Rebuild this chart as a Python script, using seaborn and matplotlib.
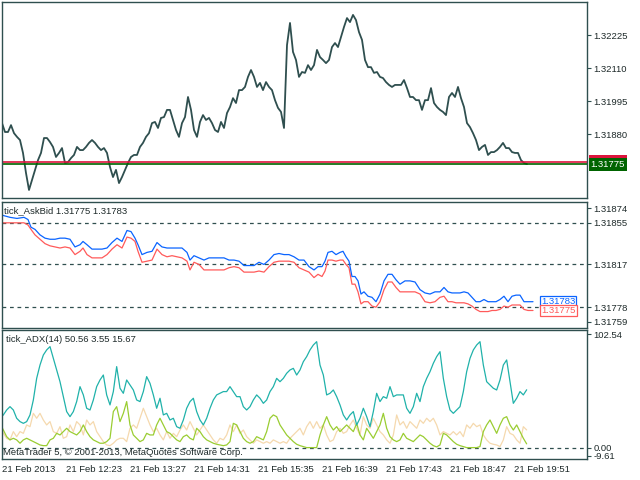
import matplotlib
matplotlib.use("Agg")
import matplotlib.pyplot as plt
import matplotlib.transforms as mtransforms
from matplotlib.patches import Rectangle
import numpy as np
import pandas as pd
import seaborn as sns

# --- main chart: tick price (sampled every 3 ticks) ---
price = [
    1.31918, 1.31887, 1.31887, 1.31911, 1.31883, 1.31870, 1.31859, 1.31814, 1.31744, 1.31685,
    1.31720, 1.31755, 1.31789, 1.31814, 1.31866, 1.31866, 1.31852, 1.31835, 1.31800, 1.31814,
    1.31831, 1.31779, 1.31782, 1.31796, 1.31807, 1.31835, 1.31824, 1.31824, 1.31835, 1.31849,
    1.31859, 1.31849, 1.31835, 1.31824, 1.31831, 1.31814, 1.31765, 1.31730, 1.31755, 1.31709,
    1.31730, 1.31755, 1.31779, 1.31800, 1.31807, 1.31807, 1.31835, 1.31849, 1.31870, 1.31883,
    1.31918, 1.31922, 1.31901, 1.31936, 1.31939, 1.31964, 1.31964, 1.31929, 1.31894, 1.31870,
    1.31918, 1.31939, 1.32009, 1.31964, 1.31894, 1.31870, 1.31922,
    1.31946, 1.31929, 1.31936, 1.31918, 1.31894, 1.31887, 1.31922, 1.31901, 1.31953, 1.31974,
    1.32005, 1.31988, 1.32033, 1.32033, 1.32044, 1.32079, 1.32103,
    1.32079, 1.32044, 1.32058, 1.32033, 1.32061, 1.32044, 1.32033, 1.31998, 1.31971, 1.31957,
    1.31901, 1.32190, 1.32267, 1.32166, 1.32138, 1.32079,
    1.32096, 1.32093, 1.32120, 1.32103, 1.32120, 1.32173, 1.32148, 1.32138, 1.32127, 1.32138,
    1.32183, 1.32197, 1.32183, 1.32218, 1.32253, 1.32284, 1.32270, 1.32295, 1.32277, 1.32235,
    1.32208, 1.32138, 1.32113, 1.32113, 1.32093, 1.32096, 1.32079, 1.32075, 1.32061, 1.32051,
    1.32044, 1.32051, 1.32051,
    1.32051, 1.32068, 1.32040, 1.32009, 1.32009, 1.31998, 1.31998, 1.31964, 1.31998, 1.31998,
    1.32040, 1.31988, 1.31974, 1.31964, 1.31957, 1.31946, 1.32009, 1.32023, 1.32009, 1.32044,
    1.32005, 1.31974, 1.31918, 1.31904, 1.31883, 1.31859, 1.31824, 1.31835, 1.31842, 1.31807,
    1.31817, 1.31817, 1.31824, 1.31835, 1.31849, 1.31831, 1.31831, 1.31817, 1.31814, 1.31814,
    1.31789, 1.31779, 1.31775,
]
price_ticks = [1.32225, 1.32110, 1.31995, 1.31880]

# --- tick_AskBid sub-window ---
ab_tick = [
    2, 10, 17, 24, 28, 31, 35, 40, 45, 50,
    55, 60, 65, 70, 75, 80, 83, 87, 92, 97,
    102, 107, 112, 117, 122, 127, 131, 135, 138, 142,
    147, 152, 157, 162, 167, 172, 177, 182, 187, 190,
    194, 199, 204, 209, 214, 219, 224, 229, 234, 239,
    244, 249, 254, 259, 264, 269, 274, 279, 284, 289,
    294, 299, 304, 309, 314, 318, 322, 325, 328, 332,
    336, 340, 343, 346, 349, 352, 355, 358, 361, 364,
    368, 372, 376, 380, 384, 388, 392, 396, 400, 405,
    410, 415, 420, 425, 430, 435, 440, 444, 448, 452,
    456, 460, 464, 468, 472, 476, 480, 484, 488, 492,
    496, 500, 504, 508, 512, 516, 520, 524, 528, 533,
]
ask = [
    1.31862, 1.31860, 1.31859, 1.31860, 1.31858, 1.31851, 1.31849, 1.31844, 1.31841, 1.31840,
    1.31840, 1.31841, 1.31841, 1.31840, 1.31833, 1.31835, 1.31838, 1.31835, 1.31831, 1.31831,
    1.31831, 1.31832, 1.31837, 1.31841, 1.31838, 1.31848, 1.31847, 1.31841, 1.31835, 1.31826,
    1.31828, 1.31829, 1.31837, 1.31833, 1.31832, 1.31832, 1.31832, 1.31832, 1.31828, 1.31821,
    1.31825, 1.31823, 1.31821, 1.31823, 1.31823, 1.31823, 1.31823, 1.31821, 1.31821, 1.31820,
    1.31816, 1.31816, 1.31816, 1.31819, 1.31817, 1.31821, 1.31826, 1.31827, 1.31826, 1.31826,
    1.31824, 1.31821, 1.31821, 1.31815, 1.31812, 1.31815, 1.31815, 1.31820, 1.31828, 1.31829,
    1.31826, 1.31828, 1.31829, 1.31824, 1.31820, 1.31806, 1.31806, 1.31802, 1.31790, 1.31792,
    1.31788, 1.31787, 1.31783, 1.31790, 1.31802, 1.31808, 1.31808, 1.31803, 1.31799, 1.31802,
    1.31802, 1.31801, 1.31794, 1.31791, 1.31790, 1.31792, 1.31792, 1.31796, 1.31792, 1.31791,
    1.31791, 1.31791, 1.31792, 1.31791, 1.31787, 1.31783, 1.31783, 1.31785, 1.31783, 1.31783,
    1.31783, 1.31785, 1.31788, 1.31783, 1.31788, 1.31789, 1.31789, 1.31783, 1.31783, 1.31783,
]
bid = [
    1.31855, 1.31855, 1.31855, 1.31855, 1.31853, 1.31849, 1.31844, 1.31840, 1.31836, 1.31834,
    1.31833, 1.31832, 1.31833, 1.31832, 1.31826, 1.31829, 1.31832, 1.31826, 1.31823, 1.31823,
    1.31823, 1.31826, 1.31831, 1.31835, 1.31832, 1.31842, 1.31841, 1.31838, 1.31829, 1.31819,
    1.31820, 1.31821, 1.31831, 1.31826, 1.31824, 1.31825, 1.31824, 1.31823, 1.31820, 1.31812,
    1.31819, 1.31817, 1.31812, 1.31812, 1.31812, 1.31812, 1.31812, 1.31814, 1.31815, 1.31814,
    1.31810, 1.31810, 1.31810, 1.31811, 1.31810, 1.31815, 1.31819, 1.31820, 1.31820, 1.31820,
    1.31819, 1.31814, 1.31812, 1.31810, 1.31805, 1.31808, 1.31806, 1.31811, 1.31821, 1.31821,
    1.31820, 1.31821, 1.31821, 1.31817, 1.31814, 1.31799, 1.31799, 1.31792, 1.31781, 1.31783,
    1.31783, 1.31779, 1.31778, 1.31783, 1.31794, 1.31801, 1.31801, 1.31796, 1.31792, 1.31792,
    1.31792, 1.31792, 1.31790, 1.31783, 1.31782, 1.31783, 1.31787, 1.31788, 1.31783, 1.31783,
    1.31782, 1.31782, 1.31782, 1.31781, 1.31779, 1.31776, 1.31774, 1.31774, 1.31774, 1.31775,
    1.31775, 1.31776, 1.31779, 1.31778, 1.31780, 1.31780, 1.31780, 1.31776, 1.31775, 1.31775,
]
ab_levels = [1.31855, 1.31817, 1.31778]
ab_range = (1.31759, 1.31874)

# --- tick_ADX(14) sub-window ---
adx = [
    25.8, 28.7, 33.0, 35.9, 33.0, 25.8, 22.9, 21.4, 22.9, 28.7,
    41.7, 60.5, 72.1, 80.8, 85.2, 88.1, 77.9, 67.8, 57.6, 44.6,
    31.6, 27.2, 31.6, 40.3, 53.3, 46.1, 34.5, 33.0, 41.7, 53.3,
    59.1, 63.4, 46.1, 37.4, 49.0, 70.7, 51.9, 47.5, 59.1, 54.8,
    50.4, 41.7, 40.3, 49.0, 62.0, 56.2, 46.1, 34.5, 43.2, 28.7,
    30.1, 24.3, 25.8, 18.5, 17.1, 24.3, 34.5, 40.3, 43.2, 31.6,
    24.3, 20.0, 25.8, 34.5, 41.7, 46.1, 47.5, 49.0, 49.0, 53.3,
    49.0, 44.6, 44.6, 35.9, 33.0, 35.9, 41.7, 46.1, 43.2, 38.8,
    41.7, 49.0, 53.3, 60.5, 57.6, 60.5, 64.9, 67.8, 69.2, 63.4,
    67.8, 75.0, 79.4, 85.2, 89.5, 92.4,
    72.1, 63.4, 46.1, 47.5, 50.4, 44.6, 37.4, 28.7, 24.3, 28.7,
    31.6, 20.0, 25.8, 34.5, 27.2, 18.5, 31.6, 47.5, 40.3, 44.6,
    43.2, 53.3, 44.6, 46.1, 46.1, 46.1, 34.5, 30.1, 35.9, 47.5,
    40.3, 53.3, 60.5, 66.3, 73.6, 79.4, 83.7, 60.5, 44.6, 33.0,
    30.1, 33.0, 35.9, 49.0, 66.3, 77.9, 85.2, 89.5, 92.4, 72.1,
    57.6, 54.8, 51.9, 50.4, 59.1, 72.1, 76.5, 57.6, 38.8, 43.2,
    49.0, 46.1, 50.56,
]
plus_di = [
    21.4, 15.6, 9.8, 7.0, 8.4, 7.0, 4.1, 7.0, 8.4, 7.0,
    5.5, 4.1, 2.6, 2.0, 2.0, 7.0, 8.4, 12.7, 11.3, 14.2,
    17.1, 14.2, 12.7, 11.3, 14.2, 20.0, 14.2, 9.8, 7.0, 5.5,
    4.1, 4.1, 5.5, 8.4, 31.6, 35.9, 22.9, 30.1, 40.3, 20.0,
    11.3, 8.4, 5.5, 7.0, 12.7, 11.3, 11.3, 20.0, 25.8, 20.0,
    14.2, 12.7, 9.8, 7.0, 5.5, 9.8, 11.3, 8.4, 7.0, 17.1,
    14.2, 9.8, 7.0, 5.5, 4.1, 3.2, 2.6, 2.0, 2.6, 5.5,
    21.4, 20.0, 14.2, 8.4, 5.5, 4.1, 5.5, 9.8, 8.4, 7.0,
    14.2, 25.8, 28.7, 27.2, 20.0, 15.6, 11.3, 8.4, 5.5, 3.2,
    2.0, 1.2, 0.3, 0.3, 0.3, 0.3,
    11.3, 20.0, 27.2, 20.0, 15.6, 18.5, 14.2, 17.1, 20.0, 17.1,
    14.2, 21.4, 11.3, 7.0, 17.1, 12.7, 8.4, 14.2, 20.0, 30.1,
    17.1, 9.8, 7.0, 5.5, 7.0, 12.7, 8.4, 7.0, 5.5, 8.4,
    11.3, 9.8, 7.0, 4.1, 2.0, 0.9, 2.6, 12.7, 11.3, 8.4,
    5.5, 3.2, 2.0, 1.2, 0.3, 0.3, 0.3, 0.3, 1.2, 14.2,
    20.0, 24.3, 18.5, 12.7, 20.0, 25.8, 27.2, 20.0, 15.6, 20.0,
    14.2, 8.4, 3.55,
]
minus_di = [
    20.0, 12.7, 8.4, 7.0, 14.2, 9.8, 14.2, 12.7, 20.0, 18.5,
    30.1, 25.8, 30.1, 24.3, 20.0, 22.9, 14.2, 12.7, 18.5, 8.4,
    9.8, 20.0, 14.2, 22.9, 20.0, 11.3, 24.3, 20.0, 22.9, 14.2,
    9.8, 5.5, 2.6, 2.0, 4.1, 7.0, 8.4, 8.4, 5.5, 17.1,
    20.0, 17.1, 25.8, 34.5, 27.2, 20.0, 14.2, 17.1, 11.3, 7.0,
    14.2, 8.4, 12.7, 9.8, 15.6, 20.0, 15.6, 22.9, 17.1, 11.3,
    15.6, 20.0, 15.6, 11.3, 7.0, 4.1, 8.4, 7.0, 11.3, 20.0,
    14.2, 20.0, 12.7, 15.6, 9.8, 7.0, 4.1, 7.0, 5.5, 4.1,
    5.5, 4.1, 7.0, 5.5, 4.1, 5.5, 4.1, 8.4, 11.3, 14.2,
    17.1, 11.3, 18.5, 22.9, 17.1, 22.9,
    17.1, 20.0, 11.3, 5.5, 7.0, 14.2, 17.1, 12.7, 14.2, 20.0,
    24.3, 17.1, 11.3, 27.2, 20.0, 17.1, 25.8, 20.0, 14.2, 11.3,
    7.0, 4.1, 11.3, 28.7, 20.0, 22.9, 17.1, 22.9, 20.0, 17.1,
    24.3, 21.4, 25.8, 22.9, 25.8, 20.0, 11.3, 14.2, 12.7, 11.3,
    14.2, 11.3, 14.2, 9.8, 20.0, 17.1, 21.4, 18.5, 20.0, 11.3,
    7.0, 4.1, 3.2, 2.6, 1.2, 7.0, 18.5, 12.7, 11.3, 7.0,
    4.1, 18.5, 15.67,
]
adx_range = (-9.61, 102.54)

time_ticks = [2, 66, 130, 194, 258, 322, 386, 450, 514]
time_labels = ["21 Feb 2013", "21 Feb 12:23", "21 Feb 13:27", "21 Feb 14:31",
               "21 Feb 15:35", "21 Feb 16:39", "21 Feb 17:43", "21 Feb 18:47",
               "21 Feb 19:51"]

FRAME = "#2F4F4F"
TEXT = "#1E2A2A"
ASK_C = "#0A64FF"
BID_C = "#FF5A5A"
FS = 6.8

sns.set_style("white")
plt.rcParams["font.family"] = ["Liberation Sans", "DejaVu Sans"]

fig = plt.figure(figsize=(6.4, 4.8), dpi=100)
W, H = 640.0, 480.0
ax1 = fig.add_axes([2 / W, 1 - 198 / H, 585 / W, 196 / H])
ax2 = fig.add_axes([2 / W, 1 - 328 / H, 585 / W, 126 / H])
ax3 = fig.add_axes([2 / W, 1 - 459 / H, 585 / W, 129 / H])


def style(ax):
    for s in ax.spines.values():
        s.set_color(FRAME)
        s.set_linewidth(1.0)
    ax.yaxis.tick_right()
    ax.tick_params(axis="y", colors=FRAME, labelcolor=TEXT, length=3, width=0.8,
                   labelsize=FS, pad=1.5, direction="out")
    ax.set_xlim(2, 587)
    ax.set_xticks([])
    ax.set_xlabel("")
    ax.set_ylabel("")


# main price chart
df_price = pd.DataFrame({"tick": 2 + 3 * np.arange(len(price)), "price": price})
sns.lineplot(data=df_price, x="tick", y="price", ax=ax1, color=FRAME, linewidth=1.3,
             estimator=None, sort=False, legend=False)
style(ax1)
ax1.set_ylim(1.31657, 1.32340)
ax1.set_yticks(price_ticks)
ax1.set_yticklabels([f"{v:.5f}" for v in price_ticks])
ax1.axhline(ask[-1], color="#DC143C", linewidth=1.2)
ax1.axhline(bid[-1], color="#006400", linewidth=1.2)
tr1 = mtransforms.blended_transform_factory(ax1.transAxes, ax1.transData)
bid_tag = ax1.text(1.006, bid[-1], f"{bid[-1]:.5f}", transform=tr1, color="white",
                   fontsize=FS, va="center", ha="left", clip_on=False, zorder=5,
                   bbox=dict(fc="#006400", ec="none", pad=1.4))

# ask / bid window
df_ab = pd.DataFrame({"tick": ab_tick, "ask": ask, "bid": bid})
for lvl in ab_levels:
    ax2.axhline(lvl, color=FRAME, linewidth=0.9, linestyle=(0, (3, 3)))
sns.lineplot(data=df_ab, x="tick", y="bid", ax=ax2, color=BID_C, linewidth=0.9,
             estimator=None, sort=False, legend=False)
sns.lineplot(data=df_ab, x="tick", y="ask", ax=ax2, color=ASK_C, linewidth=0.9,
             estimator=None, sort=False, legend=False)
style(ax2)
ax2.set_ylim(*ab_range)
pad2 = (ab_range[1] - ab_range[0]) * 0.05
ax2.set_yticks([ab_range[1] - pad2] + ab_levels + [ab_range[0] + pad2])
ax2.set_yticklabels([f"{v:.5f}" for v in [ab_range[1]] + ab_levels + [ab_range[0]]])
ax2.text(0.004, 0.968, f"tick_AskBid {bid[-1]:.5f} {ask[-1]:.5f}", transform=ax2.transAxes,
         fontsize=FS, color=TEXT, va="top", ha="left")
ax2.text(541, ask[-1], f"{ask[-1]:.5f}", color=ASK_C, fontsize=FS, va="center", ha="left",
         bbox=dict(fc="white", ec=ASK_C, lw=0.9, pad=0.9))
ax2.text(541, bid[-1], f"{bid[-1]:.5f}", color=BID_C, fontsize=FS, va="center", ha="left",
         bbox=dict(fc="white", ec=BID_C, lw=0.9, pad=0.9))

# ADX window
df_adx = pd.DataFrame({"tick": np.arange(len(adx)) * 10 / 3, "adx": adx,
                       "pdi": plus_di, "mdi": minus_di})
ax3.axhline(0, color=FRAME, linewidth=0.9, linestyle=(0, (3, 3)))
sns.lineplot(data=df_adx, x="tick", y="mdi", ax=ax3, color="#F5D9AE", linewidth=0.9,
             estimator=None, sort=False, legend=False)
sns.lineplot(data=df_adx, x="tick", y="pdi", ax=ax3, color="#9ACD32", linewidth=0.9,
             estimator=None, sort=False, legend=False)
sns.lineplot(data=df_adx, x="tick", y="adx", ax=ax3, color="#20B2AA", linewidth=0.9,
             estimator=None, sort=False, legend=False)
style(ax3)
ax3.set_ylim(*adx_range)
ax3.set_yticks([adx_range[1] - 3.5, 0.0, adx_range[0] + 3.0])
ax3.set_yticklabels([f"{adx_range[1]:.2f}", "0.00", f"{adx_range[0]:.2f}"])
ax3.set_xticks(time_ticks)
ax3.set_xticklabels(time_labels)
ax3.tick_params(axis="x", colors=FRAME, labelcolor=TEXT, length=3, width=0.8,
                labelsize=FS, pad=1.5, direction="out")
for lab in ax3.get_xticklabels():
    lab.set_horizontalalignment("left")
ax3.text(0.007, 0.961, f"tick_ADX(14) {adx[-1]:.2f} {plus_di[-1]:.2f} {minus_di[-1]:.2f}",
         transform=ax3.transAxes, fontsize=FS, color=TEXT, va="top", ha="left")
ax3.text(0.002, 0.012, "MetaTrader 5, \u00a9 2001-2013, MetaQuotes Software Corp.",
         transform=ax3.transAxes, fontsize=FS, color=TEXT, va="bottom", ha="left")

# ask price tag on the main chart sits behind the bid tag, only its top edge shows
fig.canvas.draw()
bb = bid_tag.get_bbox_patch().get_window_extent()
dy = (ax1.transData.transform((0, ask[-1]))[1]
      - ax1.transData.transform((0, bid[-1]))[1])
ax1.add_patch(Rectangle((bb.x0, bb.y0 + dy), bb.width, bb.height,
                        transform=mtransforms.IdentityTransform(), fc="#DC143C",
                        ec="none", clip_on=False, zorder=4))

fig.savefig("out.png", dpi=100)
